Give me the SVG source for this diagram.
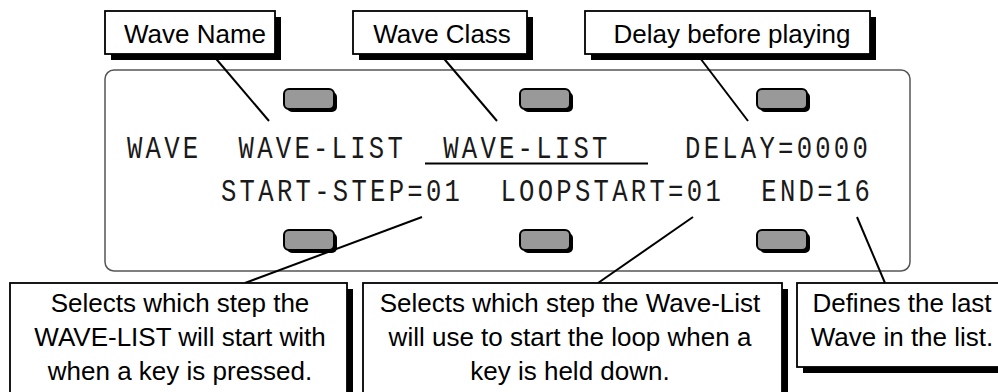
<svg xmlns="http://www.w3.org/2000/svg" width="998" height="392" viewBox="0 0 998 392">
<style>
.lbl{font-family:"Liberation Sans",Arial,sans-serif;font-size:26px;fill:#000}
.box{fill:#fff;stroke:#000;stroke-width:1.8}
.shd{fill:#000}
.lcd{font-family:"Liberation Mono","DejaVu Sans Mono",monospace;font-size:32px;fill:#1a1a1a}
.btn{fill:#999;stroke:#000;stroke-width:2}
.bsh{fill:#000}
.con{stroke:#000;stroke-width:2;fill:none}
</style>
<rect width="998" height="392" fill="#fff"/>
<g id="panel">
<rect x="105" y="70" width="805" height="201" rx="9" fill="#fff" stroke="#555" stroke-width="1.5"/>
<g class="lcd" transform="scale(0.8,1)">
<text x="158.75" y="158" textLength="926" lengthAdjust="spacing" xml:space="preserve">WAVE  WAVE-LIST  WAVE-LIST    DELAY=0000</text>
<text x="276.25" y="201" textLength="811" lengthAdjust="spacing" xml:space="preserve">START-STEP=01  LOOPSTART=01  END=16</text>
</g>
<line x1="425" y1="163.5" x2="648" y2="163.5" stroke="#000" stroke-width="2"/>
</g>
<g id="buttons">
<rect class="bsh" x="287" y="92" width="50" height="20" rx="5"/>
<rect class="btn" x="284" y="89" width="50" height="20" rx="5"/>
<rect class="bsh" x="523" y="92" width="50" height="20" rx="5"/>
<rect class="btn" x="520" y="89" width="50" height="20" rx="5"/>
<rect class="bsh" x="760" y="92" width="50" height="20" rx="5"/>
<rect class="btn" x="757" y="89" width="50" height="20" rx="5"/>
<rect class="bsh" x="287" y="233" width="50" height="20" rx="5"/>
<rect class="btn" x="284" y="230" width="50" height="20" rx="5"/>
<rect class="bsh" x="523" y="233" width="50" height="20" rx="5"/>
<rect class="btn" x="520" y="230" width="50" height="20" rx="5"/>
<rect class="bsh" x="760" y="233" width="50" height="20" rx="5"/>
<rect class="btn" x="757" y="230" width="50" height="20" rx="5"/>
</g>
<g id="connectors" class="con">
<line x1="212" y1="54" x2="269" y2="121"/>
<line x1="440" y1="54" x2="497" y2="121"/>
<line x1="697" y1="54" x2="748" y2="121"/>
<line x1="245" y1="283" x2="422" y2="217"/>
<line x1="598" y1="283" x2="693" y2="217"/>
<line x1="885" y1="283" x2="857" y2="217"/>
</g>
<g id="label-wave-name">
<rect class="shd" x="111" y="17" width="170" height="43"/>
<rect class="box" x="105" y="11" width="170" height="43"/>
<text class="lbl" x="195" y="43" text-anchor="middle">Wave Name</text>
</g>
<g id="label-wave-class">
<rect class="shd" x="359" y="17" width="174" height="43"/>
<rect class="box" x="353" y="11" width="174" height="43"/>
<text class="lbl" x="442" y="43" text-anchor="middle">Wave Class</text>
</g>
<g id="label-delay">
<rect class="shd" x="591" y="17" width="285" height="43"/>
<rect class="box" x="585" y="11" width="285" height="43"/>
<text class="lbl" x="732" y="43" text-anchor="middle">Delay before playing</text>
</g>
<g id="label-start-step">
<rect class="shd" x="16" y="289" width="337" height="120"/>
<rect class="box" x="10" y="283" width="337" height="120"/>
<text class="lbl" x="180" y="312" text-anchor="middle">Selects which step the</text>
<text class="lbl" x="180" y="346" text-anchor="middle">WAVE-LIST will start with</text>
<text class="lbl" x="180" y="380" text-anchor="middle">when a key is pressed.</text>
</g>
<g id="label-loopstart">
<rect class="shd" x="369" y="289" width="419" height="120"/>
<rect class="box" x="363" y="283" width="419" height="120"/>
<text class="lbl" x="570" y="312" text-anchor="middle">Selects which step the Wave-List</text>
<text class="lbl" x="570" y="346" text-anchor="middle">will use to start the loop when a</text>
<text class="lbl" x="570" y="380" text-anchor="middle">key is held down.</text>
</g>
<g id="label-end">
<rect class="shd" x="803" y="289" width="220" height="84"/>
<rect class="box" x="797" y="283" width="220" height="84"/>
<text class="lbl" x="902" y="312" text-anchor="middle">Defines the last</text>
<text class="lbl" x="902" y="346" text-anchor="middle">Wave in the list.</text>
</g>
</svg>
